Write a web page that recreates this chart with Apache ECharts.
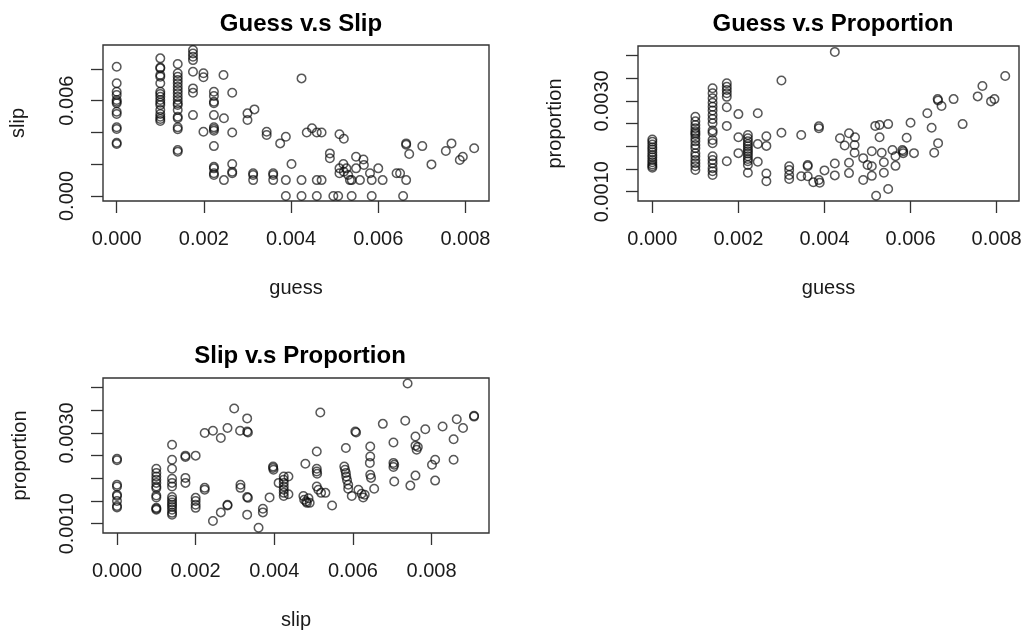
<!DOCTYPE html>
<html>
<head>
<meta charset="utf-8">
<title>Guess, slip and proportion</title>
<script src="https://cdn.jsdelivr.net/npm/echarts@6/dist/echarts.min.js"></script>
<style>
  html, body { margin: 0; padding: 0; background: #fff; }
  #chart { width: 1030px; height: 631px; }
</style>
</head>
<body>
<div id="chart"></div>
<script>
// Panel titles
const titles = ['Guess v.s Slip', 'Guess v.s Proportion', 'Slip v.s Proportion'];

// Tick positions and the subset of ticks that carry a label
const guessTicks = [0, 0.002, 0.004, 0.006, 0.008];
const slipTicks = [0, 0.002, 0.004, 0.006, 0.008];
const slipYLabels = [0, 0.006];
const propTicks = [0.001, 0.0015, 0.002, 0.0025, 0.003, 0.0035, 0.004];
const propYLabels = [0.001, 0.003];

// guess (x) vs slip (y)
const guessSlip = [
  [0,0.00813],[0,0.00709],[0,0.00656],[0,0.00635],[0,0.00604],[0,0.00593],[0,0.00583],[0,0.0053],[0,0.00516],[0,0.00433],[0,0.00421],[0,0.00335],[0,0.00327],
  [0.001,0.00866],[0.001,0.00809],[0.001,0.00803],[0.001,0.00761],[0.001,0.0075],[0.001,0.00709],[0.001,0.00656],[0.001,0.00642],[0.001,0.00625],[0.001,0.00604],[0.001,0.00587],[0.001,0.00572],[0.001,0.00541],[0.001,0.00516],[0.001,0.00499],[0.001,0.00484],[0.001,0.00472],
  [0.0014,0.0083],[0.0014,0.00772],[0.0014,0.0075],[0.0014,0.0073],[0.0014,0.00709],[0.0014,0.00687],[0.0014,0.00667],[0.0014,0.00646],[0.0014,0.00625],[0.0014,0.00604],[0.0014,0.00583],[0.0014,0.00572],[0.0014,0.00541],[0.0014,0.00499],[0.0014,0.00489],[0.0014,0.00432],[0.0014,0.0042],[0.0014,0.00289],[0.0014,0.00279],
  [0.00175,0.00918],[0.00175,0.00897],[0.00175,0.00876],[0.00175,0.00855],[0.00175,0.00782],[0.00175,0.00677],[0.00175,0.0065],[0.00175,0.00509],
  [0.00223,0.00656],[0.00223,0.00629],[0.00223,0.00593],[0.00223,0.00583],[0.00223,0.00509],[0.00223,0.00432],[0.00223,0.00421],[0.00223,0.00411],[0.00223,0.00314],[0.00223,0.00184],[0.00223,0.00174],[0.00223,0.00143],[0.00223,0.00132],
  [0.00199,0.00772],[0.00199,0.00747],[0.00199,0.00404],[0.00245,0.00761],[0.00246,0.00489],[0.00246,0.001],[0.00265,0.0065],[0.00265,0.004],[0.00265,0.00201],[0.00265,0.00143],[0.00265,0.00153],
  [0.003,0.0052],[0.003,0.00478],[0.00316,0.00545],[0.00313,0.00143],[0.00313,0.00132],[0.00313,0.001],[0.00359,0.00143],[0.00359,0.00132],[0.00359,0.001],[0.00344,0.00404],[0.00344,0.00384],[0.00375,0.00331],[0.00388,0.00373],[0.00388,0.001],[0.00388,0],
  [0.00424,0.0074],[0.00436,0.004],[0.00448,0.00426],[0.00459,0.004],[0.0047,0.004],[0.00511,0.00388],[0.00521,0.0036],[0.00401,0.00201],[0.00424,0.001],[0.00459,0.001],[0.0047,0.001],[0.00489,0.00268],[0.00489,0.00237],
  [0.00511,0.00174],[0.00511,0.00143],[0.0052,0.00201],[0.00521,0.00153],[0.00527,0.00174],[0.00531,0.00132],[0.00535,0.001],[0.00539,0.001],[0.00549,0.00247],[0.00549,0.00174],[0.00558,0.001],[0.00566,0.0023],[0.00567,0.00195],[0.00581,0.00143],[0.00585,0.001],[0.006,0.00174],[0.0061,0.001],
  [0.00642,0.00143],[0.0065,0.00143],[0.00664,0.001],[0.00664,0.00331],[0.00664,0.00322],[0.00671,0.00264],[0.00701,0.00314],[0.00722,0.00199],[0.00755,0.00283],[0.00768,0.00331],[0.00787,0.00226],[0.00794,0.00247],[0.0082,0.003],
  [0.00424,0],[0.00459,0],[0.00497,0],[0.00508,0],[0.00539,0],[0.00585,0],[0.00657,0]
];

// guess (x) vs proportion (y)
const guessProportion = [
  [0,0.00215],[0,0.0021],[0,0.00204],[0,0.00198],[0,0.00193],[0,0.00187],[0,0.00181],[0,0.00176],[0,0.0017],[0,0.00165],[0,0.0016],[0,0.00156],[0,0.00153],
  [0.001,0.00265],[0.001,0.00255],[0.001,0.00247],[0.001,0.0024],[0.001,0.00233],[0.001,0.00229],[0.001,0.00225],[0.001,0.00218],[0.001,0.00211],[0.001,0.00203],[0.001,0.00196],[0.001,0.00185],[0.001,0.00178],[0.001,0.0017],[0.001,0.00163],[0.001,0.00156],[0.001,0.00148],
  [0.0014,0.00328],[0.0014,0.00317],[0.0014,0.00306],[0.0014,0.00296],[0.0014,0.00287],[0.0014,0.00279],[0.0014,0.00269],[0.0014,0.0026],[0.0014,0.00251],[0.0014,0.00235],[0.0014,0.0023],[0.0014,0.00214],[0.0014,0.00207],[0.0014,0.00178],[0.0014,0.0017],[0.0014,0.00162],[0.0014,0.00152],[0.0014,0.00145],[0.0014,0.00137],
  [0.00173,0.00339],[0.00173,0.00331],[0.00173,0.00324],[0.00173,0.00317],[0.00173,0.00309],[0.00173,0.00286],[0.00173,0.00245],[0.00173,0.00167],
  [0.00222,0.00225],[0.00222,0.00218],[0.00222,0.00211],[0.00222,0.00205],[0.00222,0.002],[0.00222,0.00194],[0.00222,0.00189],[0.00222,0.00184],[0.00222,0.00178],[0.00222,0.00172],[0.00222,0.00167],[0.00222,0.00159],[0.00222,0.00142],
  [0.002,0.00271],[0.002,0.0022],[0.002,0.00185],[0.00245,0.00273],[0.00245,0.00205],[0.00245,0.00166],[0.00265,0.00222],[0.00265,0.00201],[0.00265,0.0014],[0.00265,0.00123],
  [0.003,0.00345],[0.003,0.0023],[0.00318,0.00156],[0.00318,0.00148],[0.00318,0.00137],[0.00318,0.00128],[0.00346,0.00225],[0.00346,0.00134],[0.00361,0.00159],[0.00361,0.00156],[0.00361,0.00134],[0.00374,0.00121],
  [0.00387,0.00244],[0.00387,0.0024],[0.00387,0.00126],[0.00389,0.0012],[0.004,0.00147],[0.00424,0.00408],[0.00424,0.00162],[0.00424,0.00136],[0.00436,0.00218],[0.00447,0.00202],[0.00457,0.00229],[0.00457,0.00164],[0.00457,0.00141],
  [0.00471,0.0022],[0.0047,0.00203],[0.0047,0.00186],[0.0049,0.00174],[0.0049,0.00126],[0.005,0.00159],[0.0051,0.00189],[0.0051,0.00156],[0.0051,0.00135],[0.00518,0.00245],[0.0052,0.00091],[0.00528,0.00247],[0.00528,0.0022],
  [0.00533,0.00186],[0.00538,0.00165],[0.00538,0.00142],[0.00548,0.00249],[0.00548,0.00106],[0.00558,0.00192],[0.00565,0.00178],[0.00565,0.00157],[0.00581,0.00192],[0.00583,0.00189],[0.00583,0.00185],[0.00591,0.00219],[0.006,0.00252],[0.00608,0.00185],
  [0.00639,0.00273],[0.00649,0.00241],[0.00655,0.00186],[0.00664,0.00207],[0.00663,0.00304],[0.00664,0.00301],[0.00672,0.00289],[0.007,0.00304],[0.00721,0.00249],[0.00756,0.0031],[0.00767,0.00333],[0.00787,0.00299],[0.00795,0.00304],[0.0082,0.00355]
];

// slip (x) vs proportion (y)
const slipProportion = [
  [0,0.00243],[0,0.0024],[0,0.00186],[0,0.00182],[0,0.00164],[0,0.00161],[0,0.0015],[0,0.00139],[0,0.00136],
  [0.001,0.00221],[0.001,0.00212],[0.001,0.00204],[0.001,0.00197],[0.001,0.0019],[0.001,0.00182],[0.001,0.00178],[0.001,0.00162],[0.001,0.00158],[0.001,0.00135],[0.001,0.00131],[0.001,0.00133],
  [0.0014,0.00274],[0.0014,0.00241],[0.0014,0.00221],[0.0014,0.00199],[0.0014,0.0019],[0.0014,0.00182],[0.0014,0.00159],[0.0014,0.00153],[0.0014,0.00147],[0.0014,0.00142],[0.0014,0.00137],[0.0014,0.00131],[0.0014,0.00124],[0.0014,0.0012],
  [0.00174,0.0025],[0.00174,0.00247],[0.00174,0.00201],[0.00174,0.0019],
  [0.002,0.0025],[0.002,0.00157],[0.002,0.0015],[0.002,0.00142],[0.002,0.00135],
  [0.00223,0.003],[0.00223,0.00179],[0.00223,0.00175],[0.00244,0.00305],[0.00244,0.00106],[0.00264,0.00289],[0.00264,0.00125],[0.00281,0.00311],[0.00281,0.00142],[0.00281,0.0014],
  [0.00298,0.00354],[0.00313,0.00305],[0.00314,0.00186],[0.00314,0.00179],[0.00331,0.00332],[0.00331,0.00303],[0.00333,0.00301],[0.00331,0.00159],[0.00333,0.00157],[0.00331,0.0012],
  [0.0036,0.00091],[0.00371,0.00133],[0.00371,0.00125],[0.00388,0.00158],[0.00397,0.00226],[0.00397,0.00223],[0.00398,0.00219],[0.00411,0.0019],
  [0.00424,0.00204],[0.00424,0.00197],[0.00424,0.0019],[0.00424,0.00182],[0.00424,0.00175],[0.00424,0.00168],[0.00424,0.00161],[0.00436,0.00204],[0.00436,0.00165],
  [0.00479,0.00232],[0.00474,0.00161],[0.00476,0.00153],[0.00481,0.00149],[0.00487,0.00156],[0.0049,0.00146],[0.00483,0.00146],
  [0.00508,0.00259],[0.00508,0.00221],[0.00508,0.00215],[0.00509,0.0021],[0.00508,0.00182],[0.00512,0.00175],[0.00519,0.00168],[0.0053,0.00168],[0.00517,0.00345],[0.00547,0.0014],
  [0.00582,0.00267],[0.00578,0.00226],[0.0058,0.00219],[0.00582,0.00212],[0.00583,0.00204],[0.00585,0.00196],[0.00588,0.00186],[0.00588,0.00177],[0.00597,0.00161],
  [0.00606,0.00303],[0.00608,0.00301],[0.00614,0.00175],[0.00622,0.00166],[0.0063,0.00164],[0.00626,0.00158],[0.00644,0.0027],[0.00644,0.00248],[0.00643,0.00234],[0.00644,0.00208],[0.00646,0.00201],[0.00654,0.00177],
  [0.00676,0.0032],[0.00703,0.00279],[0.00703,0.00234],[0.00705,0.0023],[0.00703,0.00225],[0.00705,0.00193],[0.00733,0.00327],[0.00746,0.00184],[0.00759,0.00292],[0.00759,0.00272],[0.00762,0.00263],[0.00765,0.00269],[0.00759,0.00206],[0.00739,0.00409],
  [0.00784,0.00308],[0.00801,0.0023],[0.00809,0.00241],[0.00809,0.00195],[0.00828,0.00314],[0.00856,0.00286],[0.00856,0.00241],[0.00864,0.0033],[0.0088,0.00311],[0.00908,0.00338],[0.00908,0.00336]
];

const FONT = '"Liberation Sans", Arial, Helvetica, sans-serif';
const INK = '#1a1a1a';

function valueAxis(opts) {
  const isX = opts.dim === 'x';
  return {
    type: 'value',
    gridIndex: opts.grid,
    min: opts.min,
    max: opts.max,
    name: opts.name,
    nameLocation: 'middle',
    nameGap: opts.nameGap,
    nameRotate: isX ? 0 : 90,
    nameTextStyle: { fontFamily: FONT, fontSize: 20, color: INK },
    axisLine: { show: false, onZero: false },
    splitLine: { show: false },
    axisTick: {
      show: true, inside: false, length: 12,
      customValues: opts.ticks,
      lineStyle: { color: '#333', width: 1.3 }
    },
    axisLabel: {
      show: true,
      customValues: opts.labels,
      rotate: isX ? 0 : 90,
      margin: opts.labelMargin,
      fontFamily: FONT, fontSize: 20, color: INK,
      formatter: v => Number(v).toFixed(opts.digits)
    }
  };
}

function scatter(idx, data) {
  return {
    type: 'scatter',
    xAxisIndex: idx, yAxisIndex: idx,
    data: data,
    symbol: 'circle',
    symbolSize: 8.5,
    silent: true,
    itemStyle: { color: 'rgba(0,0,0,0)', borderColor: 'rgba(10,10,10,0.85)', borderWidth: 1.5 }
  };
}

const gridStyle = { show: true, borderColor: '#333', borderWidth: 1.4, backgroundColor: 'transparent' };

const option = {
  animation: false,
  backgroundColor: '#fff',
  title: [
    { text: titles[0], left: 296, top: 7, textAlign: 'center' },
    { text: titles[1], left: 828, top: 7, textAlign: 'center' },
    { text: titles[2], left: 295, top: 339, textAlign: 'center' }
  ].map(t => Object.assign(t, { textStyle: { fontFamily: FONT, fontSize: 24, fontWeight: 'bold', color: '#000' } })),
  grid: [
    Object.assign({ left: 103, top: 45, width: 386, height: 156 }, gridStyle),
    Object.assign({ left: 638, top: 46, width: 381, height: 155 }, gridStyle),
    Object.assign({ left: 103, top: 378, width: 386, height: 155 }, gridStyle)
  ],
  xAxis: [
    valueAxis({ dim: 'x', grid: 0, min: -0.000314, max: 0.00854, ticks: guessTicks, labels: guessTicks, digits: 3, name: 'guess', nameGap: 77, labelMargin: 28 }),
    valueAxis({ dim: 'x', grid: 1, min: -0.000333, max: 0.00852, ticks: guessTicks, labels: guessTicks, digits: 3, name: 'guess', nameGap: 77, labelMargin: 28 }),
    valueAxis({ dim: 'x', grid: 2, min: -0.000356, max: 0.00946, ticks: slipTicks, labels: slipTicks, digits: 3, name: 'slip', nameGap: 77, labelMargin: 28 })
  ],
  yAxis: [
    valueAxis({ dim: 'y', grid: 0, min: -0.000314, max: 0.0095, ticks: slipTicks, labels: slipYLabels, digits: 3, name: 'slip', nameGap: 75, labelMargin: 26 }),
    valueAxis({ dim: 'y', grid: 1, min: 0.000796, max: 0.00421, ticks: propTicks, labels: propYLabels, digits: 4, name: 'proportion', nameGap: 73, labelMargin: 26 }),
    valueAxis({ dim: 'y', grid: 2, min: 0.000796, max: 0.00421, ticks: propTicks, labels: propYLabels, digits: 4, name: 'proportion', nameGap: 73, labelMargin: 26 })
  ],
  series: [
    scatter(0, guessSlip),
    scatter(1, guessProportion),
    scatter(2, slipProportion)
  ]
};

const chart = echarts.init(document.getElementById('chart'), null, { renderer: 'canvas' });
chart.setOption(option);
</script>
</body>
</html>
